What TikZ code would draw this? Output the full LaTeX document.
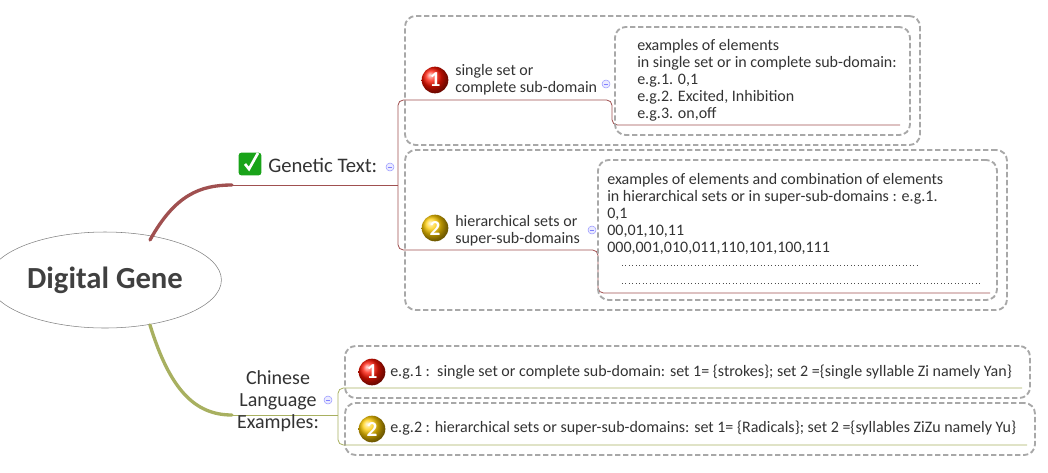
\documentclass[tikz,border=0pt]{standalone}
\usepackage{fontspec}
\setmainfont{Carlito}
\usetikzlibrary{positioning,shapes.geometric}
\definecolor{brn}{HTML}{A05050}
\definecolor{olv}{HTML}{A8B060}
\definecolor{dsh}{HTML}{A8A8A8}
\begin{document}
\begin{tikzpicture}
  [x=0.75pt,y=-0.75pt,
   txt/.style={font=\fontsize{12}{12.75}\selectfont,text=black!80,inner sep=0pt,anchor=west,align=left},
   box/.style={draw=dsh,dashed,line width=1.4pt,rounded corners=8pt,dash pattern=on 4pt off 2pt},
   badge/.style={circle,shading=ball,inner sep=0pt,minimum size=20pt,text=white,font=\bfseries\fontsize{16}{16}\selectfont},
   minus/.style={circle,draw=blue!40,fill=blue!8,inner sep=0pt,minimum size=6pt,
     path picture={\draw[blue!50,line width=0.5pt] ([xshift=-1.8pt]path picture bounding box.center) -- ([xshift=1.8pt]path picture bounding box.center);}},
   red link/.style={draw=brn,line width=0.6pt,rounded corners=4pt},
   green link/.style={draw=olv,line width=0.6pt,rounded corners=4pt}]
  \useasboundingbox (0,0) rectangle (1048,472);

  % central topic
  \node (gene) at (105,280) [ellipse,draw=black!50,minimum width=186pt*0.75,minimum height=96pt*0.75,
    font=\bfseries\fontsize{23}{24}\selectfont,text=black!75] {Digital Gene};

  % genetic text branch
  \draw [brn,line width=2.5pt,line cap=round] (150,240) .. controls (175,195) and (200,185) .. (232,185);
  \draw [red link] (232,185) -- (398,185);
  \node (chk) at (250,164) [rounded corners=2pt,fill=green!60!black!90,minimum size=17pt,inner sep=0pt] {};
  \draw [white,line width=2pt] ([shift={(-5,0)}]chk.center) -- ([shift={(-1,5)}]chk.center) -- ([shift={(8,-11)}]chk.center);
  \node (gt) at (268,165) [txt,font=\fontsize{15.5}{16}\selectfont] {Genetic Text:};
  \node (m0) at (390,167) [minus] {};

  \node (boxa) [box,minimum width=515pt*0.75,minimum height=129pt*0.75] at (662.5,80.5) {};
  \node (boxb) [box,minimum width=602pt*0.75,minimum height=160pt*0.75] at (706,230) {};

  \draw [red link] (398,185) -- (398,100) -- (612,100) -- (612,125) -- (900,125);
  \draw [red link] (398,185) -- (398,250) -- (598,250) -- (598,293) -- (990,293);

  \node (b1) at (435,80) [badge,ball color=red!85!orange] {1};
  \node (s1) at (455,80) [txt] {single set or\\complete sub-domain};
  \node (m1) at (606,84) [minus] {};
  \node (ex1) [box,minimum width=295pt*0.75,minimum height=108pt*0.75] at (762.5,81) {};
  \node (t1) at (637,80) [txt] {examples of elements\\in single set or in complete sub-domain:\\e.g.1. 0,1\\e.g.2. Excited, Inhibition\\e.g.3. on,off};

  \node (b2) at (435,228) [badge,ball color=yellow!60!orange] {2};
  \node (s2) at (455,231) [txt] {hierarchical sets or\\super-sub-domains};
  \node (m2) at (592,230) [minus] {};
  \node (ex2) [box,minimum width=399pt*0.75,minimum height=140pt*0.75] at (797.5,230) {};
  \node (t2) at (607,214) [txt] {examples of elements and combination of elements\\in hierarchical sets or in super-sub-domains : e.g.1.\\0,1\\ 00,01,10,11\\ 000,001,010,011,110,101,100,111};
  \coordinate (d1a) at (622,265);
  \coordinate (d1b) at (918,265);
  \coordinate (d2a) at (622,283);
  \coordinate (d2b) at (980,283);
  \draw [black!70,dotted,line width=0.6pt] (d1a) -- (d1b);
  \draw [black!70,dotted,line width=0.6pt] (d2a) -- (d2b);

  % chinese branch
  \draw [olv,line width=2.5pt,line cap=round] (150,325) .. controls (170,390) and (195,415) .. (232,415);
  \draw [green link] (232,415) -- (338,415);
  \node (cl) at (278,401) [txt,anchor=center,align=center,font=\fontsize{15}{16.5}\selectfont] {Chinese\\Language\\Examples:};
  \node (m3) at (328,400) [minus] {};
  \node (boxc) [box,minimum width=685pt*0.75,minimum height=52pt*0.75] at (687.5,372) {};
  \node (boxd) [box,minimum width=690pt*0.75,minimum height=52pt*0.75] at (690,429) {};
  \draw [green link] (338,415) -- (338,388) -- (1022,388);
  \draw [green link] (338,415) -- (338,445) -- (1027,445);
  \node (c1) at (372,372) [badge,ball color=red!85!orange] {1};
  \node (e1) at (390,372) [txt] {e.g.1 :\ \ single set or complete sub-domain: set 1= \{strokes\}; set 2 =\{single syllable Zi namely Yan\}};
  \node (c2) at (372,429) [badge,ball color=yellow!60!orange] {2};
  \node (e2) at (390,428) [txt] {e.g.2 : hierarchical sets or super-sub-domains: set 1= \{Radicals\}; set 2 =\{syllables ZiZu namely Yu\}};
\end{tikzpicture}
\end{document}
